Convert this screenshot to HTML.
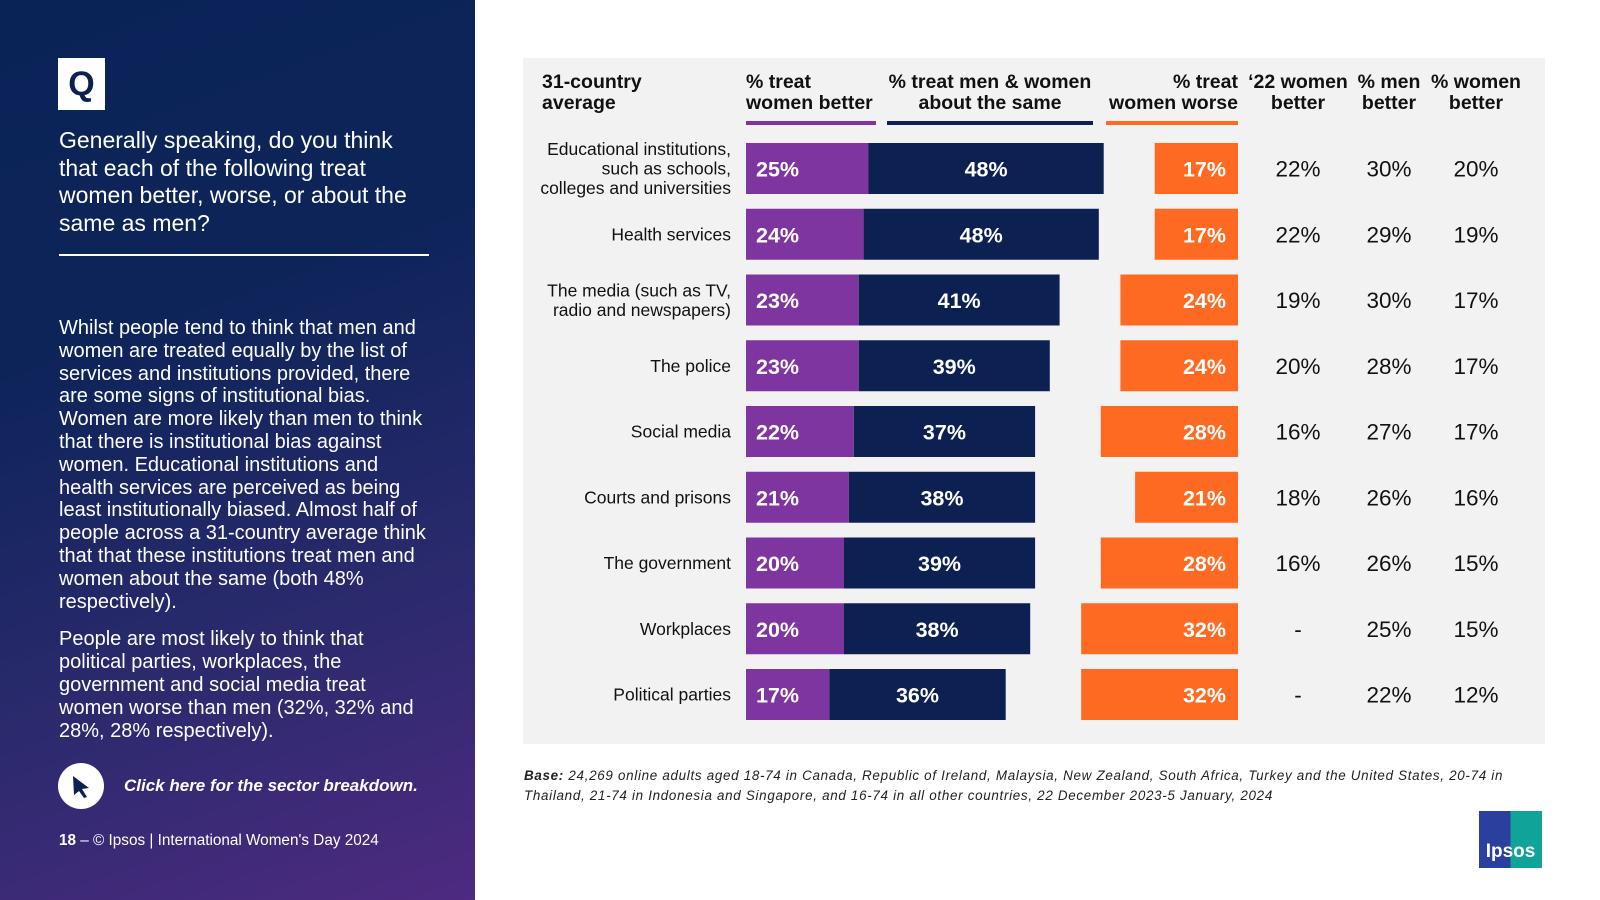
<!DOCTYPE html>
<html><head><meta charset="utf-8"><style>
body{margin:0;width:1600px;height:900px;overflow:hidden;background:#fff;font-family:"Liberation Sans",Arial,sans-serif;position:relative}
.abs{position:absolute}
#left{left:0;top:0;width:475px;height:900px;background:linear-gradient(160deg,#0a2357 0%,#0d2459 35%,#2c2a6e 70%,#4e2a80 100%);color:#fff}
</style></head><body>
<div id="left" class="abs">
 <div class="abs" style="left:58px;top:58px;width:47px;height:52px;background:#fff;color:#0c2152;font:bold 34px 'Liberation Sans';text-align:center;line-height:52px">Q</div>
 <div class="abs" style="left:59px;top:127px;width:352px;font-size:23px;line-height:27.5px">Generally speaking, do you think that each of the following treat women better, worse, or about the same as men?</div>
 <div class="abs" style="left:59px;top:254px;width:370px;height:2px;background:#fff"></div>
 <div class="abs" style="left:59px;top:317px;width:368px;font-size:20px;line-height:22.8px">Whilst people tend to think that men and women are treated equally by the list of services and institutions provided, there are some signs of institutional bias. Women are more likely than men to think that there is institutional bias against women. Educational institutions and health services are perceived as being least institutionally biased. Almost half of people across a 31-country average think that that these institutions treat men and women about the same (both 48% respectively).<div style="height:15px"></div>People are most likely to think that political parties, workplaces, the government and social media treat women worse than men (32%, 32% and 28%, 28% respectively).</div>
 <div class="abs" style="left:58px;top:763px;width:46px;height:46px;border-radius:50%;background:#fff"><svg width="46" height="46"><path d="M15 13 L31 25 L24 26 L29 34 L26 35 L21 28 L16 32 Z" fill="#0c2152"/></svg></div>
 <div class="abs" style="left:124px;top:776px;font:italic bold 17px 'Liberation Sans'">Click here for the sector breakdown.</div>
 <div class="abs" style="left:59px;top:832px;font-size:15.3px"><b>18</b> – © Ipsos | International Women's Day 2024</div>
</div>
<div class="abs" style="left:523px;top:58px;width:1022px;height:686px;background:#f2f2f2"></div>
<svg class="abs" style="left:0;top:0" width="1600" height="900" id="chart"></svg>
<div class="abs" style="left:524px;top:766px;width:1060px;font:italic 13.4px 'Liberation Sans';letter-spacing:0.7px;line-height:20px;color:#222;white-space:nowrap"><b>Base:</b> 24,269 online adults aged 18-74 in Canada, Republic of Ireland, Malaysia, New Zealand, South Africa, Turkey and the United States, 20-74 in<br>Thailand, 21-74 in Indonesia and Singapore, and 16-74 in all other countries, 22 December 2023-5 January, 2024</div>
<div class="abs" style="left:1479px;top:811px;width:63px;height:57px;background:linear-gradient(90deg,#2a3f9e 50%,#10a39a 50%);color:#fff;font:bold 19px 'Liberation Sans';text-align:center;line-height:82px">Ipsos</div>
<script>
const categories=["Educational institutions,|such as schools,|colleges and universities","Health services","The media (such as TV,|radio and newspapers)","The police","Social media","Courts and prisons","The government","Workplaces","Political parties"];
const better=[25,24,23,23,22,21,20,20,17];
const same=[48,48,41,39,37,38,39,38,36];
const worse=[17,17,24,24,28,21,28,32,32];
const better22=["22%","22%","19%","20%","16%","18%","16%","-","-"];
const menBetter=["30%","29%","30%","28%","27%","26%","26%","25%","22%"];
const womenBetter=["20%","19%","17%","17%","17%","16%","15%","15%","12%"];
const svg=document.getElementById('chart');const NS='http://www.w3.org/2000/svg';
const x0=746,k=4.9,xr=1238,y0=168.5,step=65.75,bh=51;
const xs=v=>v*k, yc=i=>y0+i*step;
function el(t,a,txt){const e=document.createElementNS(NS,t);for(const q in a)e.setAttribute(q,a[q]);if(txt!=null)e.textContent=txt;svg.appendChild(e);return e;}
const F="Liberation Sans, Arial, sans-serif";
const hdr=[["31-country","average",542,"start"],["% treat","women better",746,"start"],["% treat men & women","about the same",990,"middle"],["% treat","women worse",1238,"end"],["‘22 women","better",1298,"middle"],["% men","better",1389,"middle"],["% women","better",1476,"middle"]];
hdr.forEach(h=>{const t=el('text',{x:h[2],y:88,'font-family':F,'font-size':19.5,'font-weight':'bold','text-anchor':h[3],fill:'#111'});


[h[0],h[1]].forEach((s,j)=>{const ts=document.createElementNS(NS,'tspan');ts.setAttribute('x',h[2]);ts.setAttribute('dy',j?21:0);ts.textContent=s;t.appendChild(ts);});});
[[746,876,'#7f35a0'],[887,1093,'#0c2152'],[1106,1238,'#ff6a22']].forEach(u=>{const r=el('rect',{x:u[0],y:121,width:u[1]-u[0],height:4,fill:u[2]});

});
categories.forEach((c,i)=>{const y=yc(i);
 const lines=c.split('|');const t=el('text',{x:731,'font-family':F,'font-size':17.5,'text-anchor':'end',fill:'#111'});
 
 
 lines.forEach((s,j)=>{const ts=document.createElementNS(NS,'tspan');ts.setAttribute('x',731);ts.setAttribute('y',y+6+(j-(lines.length-1)/2)*19.5);ts.textContent=s;t.appendChild(ts);});
 const b=el('rect',{x:x0,y:y-bh/2,width:xs(better[i]),height:bh,fill:'#7f35a0'});
 
 
 const s=el('rect',{x:x0+xs(better[i]),y:y-bh/2,width:xs(same[i]),height:bh,fill:'#0c2152'});
 
 
 const w=el('rect',{x:xr-xs(worse[i]),y:y-bh/2,width:xs(worse[i]),height:bh,fill:'#ff6a22'});
 
 
 const lb=[[x0+10,better[i]+'%','start'],[x0+xs(better[i])+xs(same[i])/2,same[i]+'%','middle'],[xr-12,worse[i]+'%','end']];
 lb.forEach(l=>{const v=el('text',{x:l[0],y:y+8,'font-family':F,'font-size':21.5,'font-weight':'bold','text-anchor':l[2],fill:'#fff'},l[1]);
 
 });
 [[1298,better22[i]],[1389,menBetter[i]],[1476,womenBetter[i]]].forEach(l=>{const v=el('text',{x:l[0],y:y+8,'font-family':F,'font-size':22.5,'text-anchor':'middle',fill:'#111'},l[1]);
 
 });
});
</script>
</body></html>
